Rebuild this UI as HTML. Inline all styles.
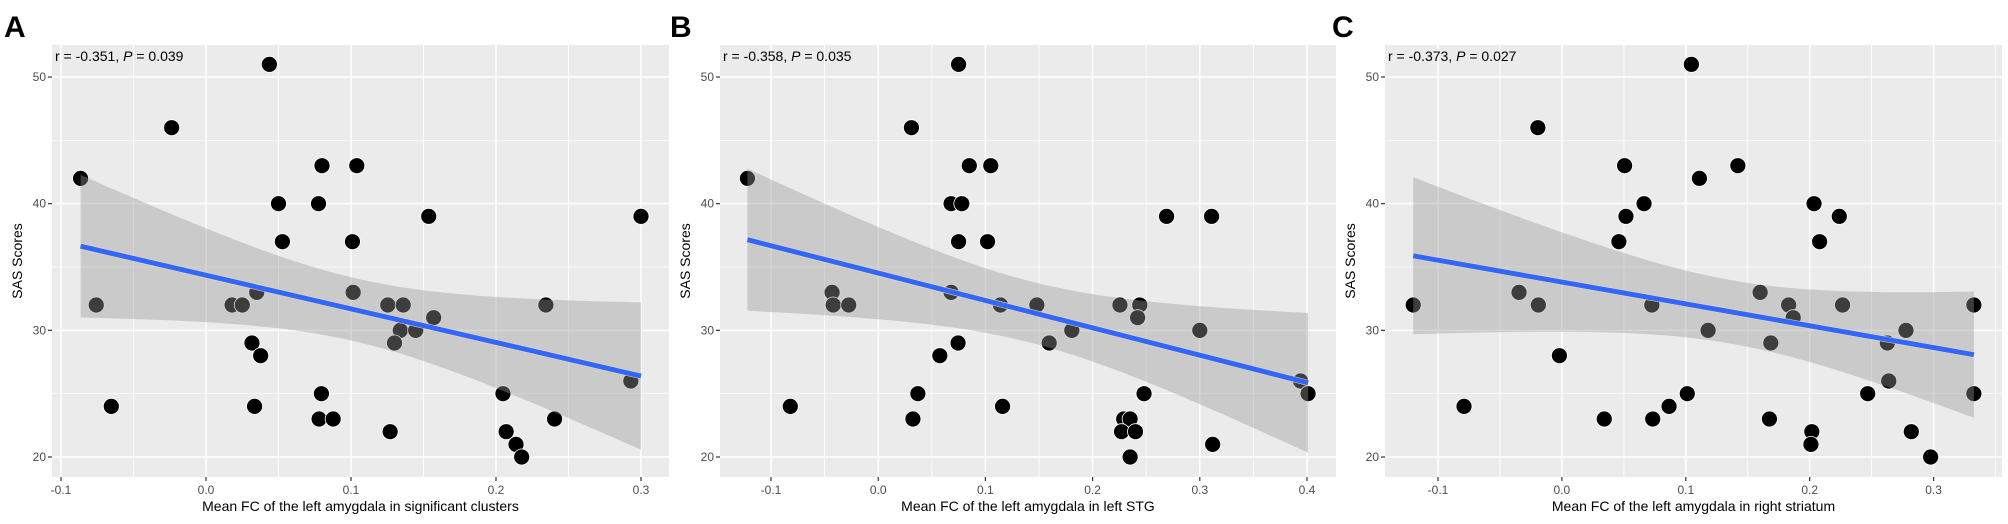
<!DOCTYPE html>
<html><head><meta charset="utf-8"><style>
html,body{margin:0;padding:0;background:#fff;width:2008px;height:524px;overflow:hidden}
svg{display:block;font-family:"Liberation Sans",Arial,sans-serif}
</style></head><body>
<svg id="fig" width="2008" height="524" viewBox="0 0 2008 524"></svg>
<script>
const aX=[0.0437,-0.0237,-0.0865,0.080,0.104,0.050,0.0776,0.1536,0.300,0.0527,0.101,-0.0757,0.018,0.025,0.035,0.1015,0.1254,0.136,0.2344,0.157,0.134,0.1446,0.130,0.0317,0.0377,0.293,0.0796,0.2048,-0.0653,0.0335,0.078,0.0877,0.2404,0.127,0.207,0.2138,0.2177];
const aY=[51,46,42,43,43,40,40,39,39,37,37,32,32,32,33,33,32,32,32,31,30,30,29,29,28,26,25,25,24,24,23,23,23,22,22,21,20];
const bX=[0.075,0.031,-0.122,0.085,0.105,0.068,0.078,0.269,0.311,0.075,0.102,-0.043,0.068,-0.042,-0.0275,0.114,0.148,0.2255,0.244,0.242,0.1806,0.300,0.1595,0.0745,0.0575,0.394,0.401,0.037,0.248,-0.082,0.116,0.0324,0.229,0.235,0.227,0.240,0.312,0.235];
const bY=[51,46,42,43,43,40,40,39,39,37,37,33,33,32,32,32,32,32,32,31,30,30,29,29,28,26,25,25,25,24,24,23,23,23,22,22,21,20];
const cX=[0.1045,-0.0194,0.0506,0.142,0.111,0.0663,0.2035,0.0517,0.2239,0.046,0.208,-0.0346,0.160,-0.12,-0.019,0.0726,0.183,0.2265,0.3325,0.1867,0.118,0.2777,0.1686,0.2627,-0.002,0.2638,0.1012,0.2468,0.3325,-0.079,0.0865,0.0342,0.0733,0.1675,0.2017,0.201,0.282,0.2976];
const cY=[51,46,43,43,42,40,40,39,39,37,37,33,33,32,32,32,32,32,32,31,30,30,29,29,28,26,25,25,25,24,24,23,23,23,22,21,22,20];
const aTicks=["-0.1","0.0","0.1","0.2","0.3"];
const bTicks=["-0.1","0.0","0.1","0.2","0.3","0.4"];
const cTicks=["-0.1","0.0","0.1","0.2","0.3"];
const yTicks=[20,30,40,50];
const labels=["A","B","C"];
const stats=["-0.351|0.039","-0.358|0.035","-0.373|0.027"];
const titles=["Mean FC of the left amygdala in significant clusters","Mean FC of the left amygdala in left STG","Mean FC of the left amygdala in right striatum"];

const NS="http://www.w3.org/2000/svg";
const svg=document.getElementById('fig');
function mk(tag,attrs,parent){const e=document.createElementNS(NS,tag);for(const k in attrs)e.setAttribute(k,attrs[k]);(parent||svg).appendChild(e);return e;}

const panels=[
 {xs:aX,ys:aY,ticks:aTicks,L:52,R:669,x0:61,k:1450,lx:4},
 {xs:bX,ys:bY,ticks:bTicks,L:720,R:1336,x0:771,k:1072,lx:670},
 {xs:cX,ys:cY,ticks:cTicks,L:1385,R:2002,x0:1438,k:1239,lx:1332}
];
const T=45,B=477;
const yS=v=>77+(50-v)*12.667;

panels.forEach((p,i)=>{
 const xS=v=>p.x0+(v+0.1)*p.k;
 const g=mk('g',{});
 
 
 const lab=mk('text',{x:p.lx,y:37,'font-size':30,'font-weight':'bold',fill:'#000'},g);
 lab.textContent=labels[i];
 
 
 const bg=mk('rect',{x:p.L,y:T,width:p.R-p.L,height:B-T,fill:'#ebebeb'},g);
 
 
 // grid
 const tv=p.ticks.map(Number);
 for(let j=0;j<tv.length;j++){
  const mids=[tv[j]-0.05,tv[j]+0.05];
  mids.forEach(m=>{const px=xS(m);if(px>p.L&&px<p.R)mk('line',{x1:px,x2:px,y1:T,y2:B,stroke:'#fff','stroke-width':0.7},g);});
 }
 [25,35,45].forEach(v=>mk('line',{x1:p.L,x2:p.R,y1:yS(v),y2:yS(v),stroke:'#fff','stroke-width':0.7},g));
 tv.forEach((v,j)=>{const px=xS(v);
  mk('line',{x1:px,x2:px,y1:T,y2:B,stroke:'#fff','stroke-width':1.5},g);
  mk('line',{x1:px,x2:px,y1:B,y2:B+4,stroke:'#333','stroke-width':1.2},g);
  const t=mk('text',{x:px,y:B+17,'font-size':12,'text-anchor':'middle',fill:'#4d4d4d'},g);t.textContent=p.ticks[j];
  
  
 });
 yTicks.forEach(v=>{const py=yS(v);
  mk('line',{x1:p.L,x2:p.R,y1:py,y2:py,stroke:'#fff','stroke-width':1.5},g);
  mk('line',{x1:p.L-4,x2:p.L,y1:py,y2:py,stroke:'#333','stroke-width':1.2},g);
  const t=mk('text',{x:p.L-6,y:py+4,'font-size':12,'text-anchor':'end',fill:'#4d4d4d'},g);t.textContent=v;
  
  
 });
 // points
 p.xs.forEach((x,j)=>{const c=mk('circle',{cx:xS(x),cy:yS(p.ys[j]),r:8,fill:'#000',stroke:'#fff','stroke-width':0.8},g);
  
  });
 // regression
 const n=p.xs.length,mx=p.xs.reduce((a,b)=>a+b)/n,my=p.ys.reduce((a,b)=>a+b)/n;
 let sxx=0,sxy=0;p.xs.forEach((x,j)=>{sxx+=(x-mx)**2;sxy+=(x-mx)*(p.ys[j]-my);});
 const b1=sxy/sxx,b0=my-b1*mx;
 let sse=0;p.xs.forEach((x,j)=>{sse+=(p.ys[j]-b0-b1*x)**2;});
 const s=Math.sqrt(sse/(n-2)),tq=2.03;
 const xmin=Math.min(...p.xs),xmax=Math.max(...p.xs);
 const up=[],lo=[];
 for(let q=0;q<=60;q++){const x=xmin+(xmax-xmin)*q/60;const f=b0+b1*x;const h=tq*s*Math.sqrt(1/n+(x-mx)**2/sxx);
  up.push(xS(x).toFixed(1)+','+yS(f+h).toFixed(1));lo.unshift(xS(x).toFixed(1)+','+yS(f-h).toFixed(1));}
 const band=mk('polygon',{points:up.concat(lo).join(' '),fill:'#999','fill-opacity':0.4},g);
 
 
 mk('line',{x1:xS(xmin),y1:yS(b0+b1*xmin),x2:xS(xmax),y2:yS(b0+b1*xmax),stroke:'#f0e0a0','stroke-width':6},g);
 const ln=mk('line',{x1:xS(xmin),y1:yS(b0+b1*xmin),x2:xS(xmax),y2:yS(b0+b1*xmax),stroke:'#3366ff','stroke-width':5},g);
 
 
 // annotation
 const st=stats[i].split('|');
 const an=mk('text',{x:p.L+3,y:61,'font-size':14,fill:'#000'},g);
 
 
 an.innerHTML='r = '+st[0]+', <tspan font-style="italic">P</tspan> = '+st[1];
 // axis titles
 const xt=mk('text',{x:(p.L+p.R)/2,y:511,'font-size':14,'text-anchor':'middle',fill:'#000'},g);
 xt.textContent=titles[i];
 
 
 const yt=mk('text',{x:0,y:0,'font-size':14,'text-anchor':'middle',fill:'#000',transform:'translate('+(p.L-30)+','+((T+B)/2)+') rotate(-90)','xml:space':'preserve'},g);
 yt.textContent='SAS  Scores';
 
 
});
</script>
</body></html>
